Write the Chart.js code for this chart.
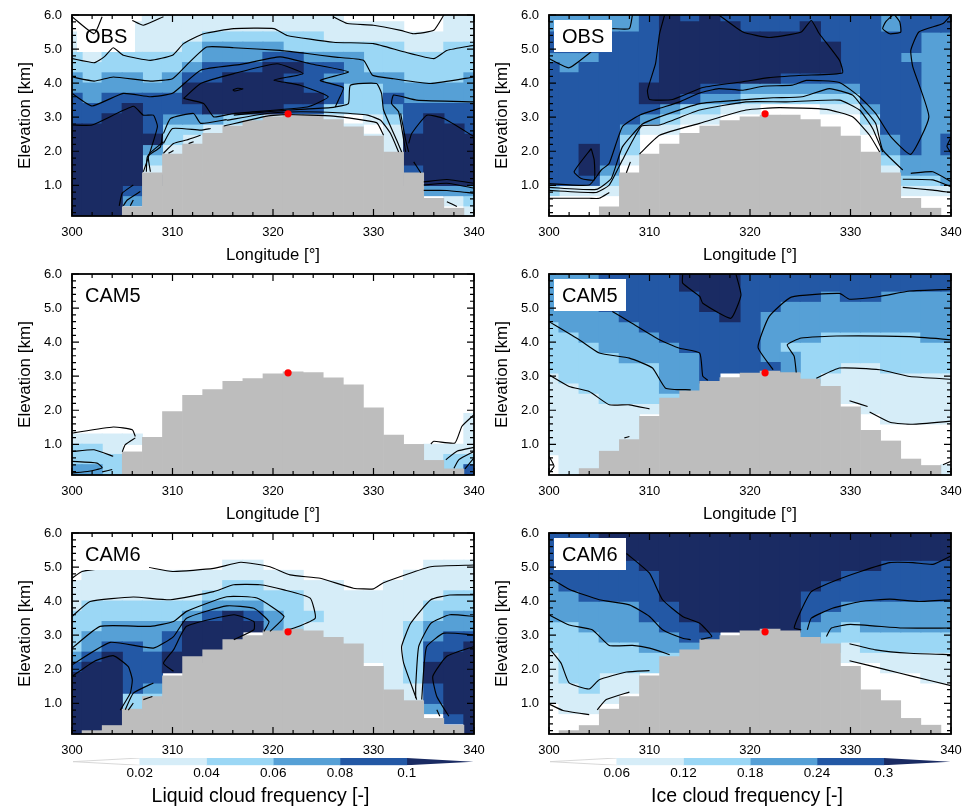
<!DOCTYPE html>
<html>
<head>
<meta charset="utf-8">
<title>Cloud frequency</title>
<script src="https://cdn.jsdelivr.net/npm/chart.js@4"></script>
<style>
  html, body { margin: 0; padding: 0; background: #fff; }
  body { position: relative; width: 972px; height: 807px; overflow: hidden; }
  canvas { position: absolute; }
</style>
</head>
<body>
<script>
const lonTicks = [300, 310, 320, 330, 340];
const elevTicks = [1, 2, 3, 4, 5, 6];
const lonCells = [300, 302, 304, 306, 308, 310, 312, 314, 316, 318, 320, 322, 324, 326, 328, 330, 332, 334, 336, 338, 340];
const rowEdges = [0.1, 0.4, 0.7, 1.0, 1.3, 1.6, 1.9, 2.2, 2.5, 2.8, 3.1, 3.4, 3.7, 4.0, 4.3, 4.6, 4.9, 5.2, 5.5, 5.8, 6.1];
const siteLon = [321.5];
const siteElev = [3.1];

const liquidBreaks = [0.02, 0.04, 0.06, 0.08, 0.1];
const iceBreaks = [0.06, 0.12, 0.18, 0.24, 0.3];

// terrain top per longitude column
const obsTerrain = [0, 0, 0, 0.37, 1.37, 1.92, 2.21, 2.53, 2.74, 2.9, 3.01, 3.06, 3.06, 2.93, 2.72, 2.45, 1.98, 1.37, 0.62, 0.33, 0];
const cam5LiquidTerrain = [0, 0, 0, 0.78, 1.21, 1.96, 2.44, 2.61, 2.85, 2.93, 3.07, 3.13, 3.11, 2.95, 2.75, 2.07, 1.27, 1.0, 0.53, 0.28, 0];
const cam5IceTerrain = [0, 0, 0.29, 0.8, 1.14, 1.82, 2.36, 2.57, 2.85, 2.96, 3.09, 3.15, 3.11, 2.92, 2.7, 2.1, 1.41, 1.1, 0.57, 0.38, 0];
const cam6Terrain = [0, 0.2, 0.35, 0.83, 1.2, 1.81, 2.37, 2.57, 2.87, 2.99, 3.13, 3.18, 3.13, 2.94, 2.75, 2.09, 1.4, 1.08, 0.56, 0.36, 0];

// colour class of each cell, top row first, one char per longitude
const obsLiquidBins = [
  '000011111111110000011', '000111111111111110011', '100111122222211111111', '111111233332222221122',
  '212222233344333222222', '222222344455443222222', '323323445554433332223', '333333555555442233333',
  '434444555555542243333', '444544455554422234444', '445543332211110124544', '555542211111111014554',
  '555552111111111115555', '555531111111111115555', '555521111111111115555', '555511111111111114555',
  '555550000000000005555', '555400000000000000333', '555300000000000000012', '555000000000000000001'
];
const obsIceBins = [
  '333334545444444443444', '333334555544454443444', '444444555555554444433', '444444555555555444433',
  '333444555555555444333', '434444555555555444433', '444444555555444444433', '444445554433333344433',
  '444445543322222244433', '444444322110001134433', '444443211000000024433', '444431100000000014433',
  '444420000000000003434', '445420000000000003434', '445410000000000002333', '445300000000000001333',
  '444200000000000000223', '211100000000000000111', '000000000000000000000', '000000000000000000000'
];
const cam5LiquidBins = [
  '000000000000000000000', '000000000000000000000', '000000000000000000000', '000000000000000000000',
  '000000000000000000000', '000000000000000000000', '000000000000000000000', '000000000000000000000',
  '000000000000000000000', '000000000000000000000', '000000000000000000000', '000000000000000000000',
  '000000000000000000000', '000000000000000000000', '000000000000000000001', '000000000000000000001',
  '111100000000000000001', '221000000000000000111', '222000000000000000122', '332000000000000000024'
];
const cam5IceBins = [
  '333444455544444444444', '333444455544444444444', '333444445544443443333', '333444445544333333333',
  '333344444543333333333', '233334444443333333333', '223333444443332222233', '222333344443222222222',
  '222233334443322222222', '222222334444322112222', '122222334000021111111', '112222330000001111111',
  '111222200000000111111', '111111000000000011111', '111110000000000001111', '111110000000000000000',
  '111110000000000000000', '111100000000000000000', '011000000000000000000', '011000000000000000001'
];
const cam6LiquidBins = [
  '000000000000000000000', '000000000000000000000', '000000000000000000000', '000000001100000000111',
  '011111111111000001111', '111111112211110011111', '111111122222111111122', '122222233322111111222',
  '222222345432211111233', '223333555532111112333', '233334555000011112344', '234434550000001112445',
  '345445500000000112455', '455445000000000012555', '555440000000000012555', '555430000000000011455',
  '555220000000000001455', '555200000000000000355', '555000000000000000045', '555000000000000000005'
];
const cam6IceBins = [
  '444555555555555555555', '444455555555555555555', '444455555555555555555', '444445555555555554444',
  '444444555555555444444', '344444555555554444444', '334444555555544444444', '333334455555544333333',
  '333334455555543333333', '223333445555533233333', '222333344000032222222', '222223330000002122222',
  '122222200000000111111', '122222000000000001111', '122110000000000000011', '112110000000000000000',
  '111100000000000000000', '011000000000000000000', '000000000000000000000', '000000000000000000000'
];

// contour lines as lon, elevation, lon, elevation ...
const obsLiquidLines = [
  [300,5.95, 302.2,5.45, 303,5.95],
  [306,5.84, 307.1,5.7, 309.1,5.95],
  [326,5.95, 327.4,5.75, 330,5.7, 332.7,5.55, 334,5.45, 336,5.55, 337,6],
  [300,4.72, 302.2,4.6, 303.2,4.77, 304.1,5.04, 305.1,4.82, 307.8,4.67, 310,4.82, 311.1,5.16, 313.1,5.45, 316.1,5.6, 320.1,5.6, 321.4,5.4, 326,5.2, 330,5.16, 333,4.92, 336,4.72, 337.3,4.96, 340,5.11],
  [300,4.18, 302.2,4.06, 304.1,4.18, 307.8,4.06, 310,4.13, 311.4,4.53, 313.4,5.06, 316.1,5.04, 320.7,4.96, 323.4,4.87, 326,4.77, 329,4.67, 329.9,4.23, 332,4.13, 335.7,3.99, 340,4.18],
  [300,3.7, 302,3.33, 305.1,3.7, 307.8,3.6, 310,3.7, 312.8,4.38, 316.8,4.55, 320.7,4.77, 323.7,4.57, 327.5,4.33, 324.7,4.08, 327,3.87, 326.5,3.5, 326.2,3.3],
  [311.1,3.55, 312.8,3.99, 316.1,4.28, 320.4,4.57, 323,4.28, 320.1,4.09, 322.7,3.94, 325.5,3.6, 323.4,3.3, 316.1,3.11, 314.1,3.01, 313.1,3.4, 311.1,3.55],
  [316,3.8, 316.5,3.85, 317,3.83, 316.2,3.77, 316,3.8],
  [316.1,3.06, 319.4,3.16, 322.7,3.23, 326,3.29, 327.5,3.4, 327.7,3.94, 330.3,3.99, 330.8,3.7, 331,3.21, 332.3,2.33, 332.8,1.98],
  [315.4,2.91, 319.4,3.11, 322.7,3.16, 326.4,3.13, 329.4,3.06, 330.7,2.91, 331.7,2.52, 332.5,1.98],
  [315.1,2.74, 319.4,3.03, 321.4,3.08, 326,3.03, 330.3,2.84, 331,2.47],
  [309.1,2.52, 309.8,2.96, 312.1,3.11, 312.8,2.82, 315.4,2.93],
  [309.1,2.23, 310,2.67, 312.8,2.62, 313.8,2.67],
  [309.1,1.94, 310.1,2.23, 311.4,2.33, 312.8,2.47],
  [309.6,1.94, 310.1,2.02],
  [311.6,2.23, 312.1,2.28],
  [300,2.77, 302,2.77, 306.1,3.32, 307.1,3.06, 308.1,3.06, 308.5,2.72, 307.5,1.74, 307.1,1.4],
  [307.4,1.4, 307.5,1.84, 308.8,2.13, 309,2.52],
  [307.8,1.4, 307.6,1.89, 309.1,2.28],
  [304.7,0.4, 305,0.77, 306.1,1.01],
  [305.1,0.4, 305.5,0.57, 306.8,0.82],
  [305.8,0.4, 306.1,0.57],
  [340,3.45, 334.3,3.5, 332,3.65, 331.8,3.4, 332.5,3.16, 333.2,1.98],
  [332.7,3.11, 333.2,2.33, 333.5,1.98],
  [333.5,2.23, 333.8,2.52, 335.3,3.06, 337,2.96, 340,2.43],
  [334,1.69, 334.7,1.37],
  [335,1.1, 337.3,1.17, 340,1.06],
  [335,1.01, 337.3,1.06, 340,0.92],
  [335,0.85, 337.3,0.85, 340,0.77],
  [337.3,0.52, 338.3,0.38]
];
const obsIceLines = [
  [306.3,5.6, 308,5.6, 308.3,6],
  [300,4.72, 302,4.45, 304.2,4.92],
  [311.5,6, 311,5.45, 310.6,4.57, 309.8,3.79, 310,3.52, 312.3,3.52, 315.3,3.87, 319.3,4.04, 321.9,4.16, 325.2,4.23, 329.2,4.3, 328.9,4.67, 326.9,5.45, 326.1,5.84, 325.1,5.5, 321.9,5.34, 319.3,5.5, 316.9,6],
  [304.2,2.08, 302.5,1.4, 303.2,1.2, 304.5,1.16, 304.5,1.74, 304.2,2.08],
  [334.2,6, 333.5,5.8, 333.2,5.6, 333.9,5.45, 335,5.5, 334.9,5.8, 334.4,6],
  [340,6, 339.2,5.75, 336.8,5.5, 336,4.96, 336.2,4.48, 337.8,3.01, 336,1.91, 334,2.43, 332.5,3.11, 330.9,3.6, 328.9,4.02, 325.6,4.08, 324.2,3.94, 321.3,3.91, 319.3,3.79, 316.9,3.84, 315,3.71, 313,3.45, 311,3.26, 309,3.06, 307.3,2.72, 306,1.65, 305.2,1.45, 304,1.01, 300,1.05],
  [300,0.94, 304.7,0.88, 306.2,1.2, 307.3,2.13, 309.3,2.8, 311,3.01, 315,3.4, 318.9,3.5, 322.3,3.57, 325.2,3.6, 327.9,3.84, 330.2,3.65, 331.2,3.3, 332.5,2.82, 333.2,2.04, 335.2,1.45],
  [300,0.85, 304.7,0.79, 306,1.01, 307.3,1.74, 309.2,2.74, 311,2.77, 315,3.21, 319.6,3.45, 323.6,3.45, 328.9,3.5, 330.9,3.21, 332.2,2.67, 333.2,1.98],
  [300,0.62, 304,0.62, 305,0.62, 306,0.79],
  [307.7,1.37, 308.1,1.69],
  [309,1.92, 311,2.47, 315,2.82, 319.6,3.21, 322.9,3.28, 327.6,3.23, 330.2,3.01, 331.9,2.47, 332.9,1.98],
  [336,1.35, 338.2,1.4, 340,1.11],
  [335.2,1.18, 338.2,1.16, 340,0.96],
  [335.2,0.94, 338.2,0.86, 340,0.79],
  [340,2.4, 339.6,2.15, 340,1.95]
];
const cam5LiquidLines = [
  [300,1.33, 304.1,1.51, 306,1.43, 306.3,1.23],
  [305,0.78, 305.3,0.99, 306.3,1.19],
  [300,0.79, 302.2,0.84, 304.1,0.65],
  [300,0.5, 302.5,0.45, 303,0.31, 301.7,0.21, 300,0.16],
  [303,0.19, 304,0.26],
  [335.7,1.01, 336,1.09, 338.1,1.04, 338.8,1.53, 340,1.87],
  [337.2,0.55, 338.3,0.8, 340,0.91],
  [338,0.3, 338.5,0.55, 340,0.79],
  [339.1,0.28, 340,0.6]
];
const cam5IceLines = [
  [300,4.6, 303,4.07, 305,3.68, 308,3.53, 310.3,3.24, 311.6,2.65, 314.1,2.6],
  [300,3.04, 302,2.7, 304,2.55, 306,2.16, 308,2.16, 310,2.04],
  [306.3,4.9, 308,4.6, 311,4.07, 313,3.82, 315,3.68, 315.3,3, 315.8,2.88],
  [313.3,6, 313.3,5.73, 315,5.34, 315.3,5.14, 318.1,4.7, 319.1,5.38, 318.6,6],
  [322.3,3.19, 320.8,3.85, 321.9,4.75, 324.1,5.32, 328.9,5.43, 329.9,5.26, 332.9,5.34, 335.9,5.5, 340,5.55],
  [324.6,3.11, 324.4,3.58, 323.7,3.92, 325.1,4.12, 328.6,4.18, 335.9,4.16, 340,4.07],
  [326.6,2.94, 328.9,3.24, 332.9,3.19, 335.9,2.99, 340,2.91],
  [329.9,2.28, 331.7,2.11],
  [331.9,1.95, 334,1.64, 336.2,1.59, 340,1.68],
  [307.5,1.19, 308,1.23],
  [300,0.65, 300.5,0.36, 300,0.16],
  [339.2,0.4, 340,0.5]
];
const cam6LiquidLines = [
  [300,4.67, 301,4.87, 306.1,5.06, 310,4.87, 314.1,4.96, 316.8,5.14, 319.7,5.01, 321.7,4.77, 324.7,4.67, 328,4.38, 330,4.36, 331,4.54, 335.7,5.01, 340,5.06],
  [300,3.55, 301.8,3.99, 306.1,4.12, 309.8,4.04, 314.1,4.28, 316.1,4.48, 318.7,4.48, 321.1,4.33, 323.7,4.09, 324.2,3.5, 322.1,3.21, 321.2,3.14],
  [334.3,1.11, 333,2.18, 332.8,2.67, 333.7,3.35, 335.7,4.04, 337.6,4.18, 340,4.18],
  [300,2.62, 302.8,3.26, 307.8,3.26, 310.1,3.4, 311.4,3.7, 315.4,4.13, 318.4,4.09, 321.1,3.55, 319.7,3.11],
  [334.2,1.16, 334.2,1.5, 334.5,2.67, 335.7,3.35, 337.6,3.6, 340,3.55],
  [300,2.13, 303.8,2.79, 308.1,2.62, 310.1,2.96, 311.4,3.5, 315.4,3.86, 318.1,3.79, 319.6,3.4, 319.1,3.11],
  [334.8,1.11, 335,1.99, 335.3,2.67, 337,3.06, 340,3.01],
  [300,1.79, 302.2,2.23, 304.1,2.4, 305.6,2.08, 306,1.69, 305.8,1.3, 304.8,0.8],
  [310.1,1.94, 309.1,2.18, 310.1,2.57, 311.4,3.26, 316.1,3.6, 318.1,3.4, 318.1,3.16, 316.1,2.87],
  [337.5,0.62, 336.3,1.2, 335.9,1.79, 337.3,2.38, 340,2.67],
  [336.6,0.62, 336.3,0.81],
  [308.1,1.6, 306.1,1.3, 305.3,0.81],
  [308,1.2, 307.1,1.11],
  [306.1,1.01, 305.6,0.8]
];
const cam6IceLines = [
  [307.7,5.4, 310,4.82, 311.3,4.04, 313.3,3.55, 315,3.35, 316.2,2.96, 315.1,2.88],
  [325.1,3.16, 324.4,3.21, 325.1,3.74, 326.1,4.28, 328.2,4.57, 331,4.87, 333.9,5.13, 336.2,5.13, 338.2,5.08, 340,5.33],
  [300,4.7, 302,4.35, 305,4.04, 308,3.89, 310,3.55, 311.3,3.16, 313.3,2.91, 314.1,2.87],
  [325.7,3.16, 326.1,3.5, 328.2,3.79, 331,3.99, 333.9,4.06, 336.8,3.99, 340,4.04],
  [300,3.6, 302,3.3, 304.3,3.16, 306,2.7, 308.3,2.7, 310,2.62, 312,2.43],
  [327.6,2.96, 328.1,3.21, 330,3.32, 335.2,3.21, 340,3.21],
  [300,2.62, 301.2,2.18, 302,1.6, 304,1.42, 305,1.69, 307.7,1.92, 310,1.96],
  [329.9,2.75, 332.5,2.57, 335.9,2.47, 340,2.43],
  [300,0.98, 301.4,0.79, 304,0.67],
  [304.8,0.81, 305.7,1.11, 308,1.33],
  [329.9,2.25, 333.5,1.99, 336.2,1.79, 340,1.52]
];

const binColors = ['#ffffff', '#d6edf8', '#9bd7f5', '#56a0d6', '#2358a5', '#1a2b63'];
const terrainColor = '#bdbdbd';
const fontFamily = '"Liberation Sans", Arial, sans-serif';

Chart.defaults.font.family = fontFamily;
Chart.defaults.color = '#000';
Chart.defaults.animation = false;

function addCanvas(left, top, width, height) {
  const c = document.createElement('canvas');
  c.width = width;
  c.height = height;
  c.style.left = left + 'px';
  c.style.top = top + 'px';
  c.style.width = width + 'px';
  c.style.height = height + 'px';
  document.body.appendChild(c);
  return c;
}

// one bar dataset per colour class, vertical runs of a column merged into one bar
function cellDatasets(bins) {
  const sets = [];
  for (let level = 1; level <= 5; level++) {
    const data = [];
    lonCells.forEach((lon, col) => {
      let run = null;
      for (let k = 0; k < rowEdges.length - 1; k++) {
        const ch = bins[bins.length - 1 - k].charAt(col);
        if (Number(ch) === level && ch !== '') {
          if (run) {
            run.y[1] = rowEdges[k + 1];
          } else {
            run = { x: lon, y: [rowEdges[k], rowEdges[k + 1]] };
            data.push(run);
          }
        } else {
          run = null;
        }
      }
    });
    sets.push({
      type: 'bar', data: data, backgroundColor: binColors[level], borderWidth: 0, inflateAmount: 0.6,
      grouped: false, barPercentage: 1, categoryPercentage: 1, order: 30 - level
    });
  }
  return sets;
}

function lineDatasets(lines) {
  return lines.map(flat => {
    const pts = [];
    for (let i = 0; i < flat.length; i += 2) pts.push({ x: flat[i], y: flat[i + 1] });
    return {
      type: 'scatter', data: pts, showLine: true, borderColor: '#000', borderWidth: 1.15,
      pointRadius: 0, tension: 0.15, order: 10
    };
  });
}

function panelPlugin(label, boxWidth, boxUnderLines) {
  function drawBox(chart) {
    const ctx = chart.ctx, a = chart.chartArea;
    ctx.save();
    ctx.fillStyle = '#fff';
    ctx.fillRect(a.left + 5, a.top + 5, boxWidth, 32);
    ctx.fillStyle = '#000';
    ctx.font = '20px ' + fontFamily;
    ctx.textBaseline = 'alphabetic';
    ctx.fillText(label, a.left + 13, a.top + 28);
    ctx.restore();
  }
  return {
    id: 'panelFrame',
    afterDatasetDraw(chart, args) {
      if (boxUnderLines && chart.data.datasets[args.index].isTerrain) drawBox(chart);
    },
    afterDatasetsDraw(chart) {
      const ctx = chart.ctx, a = chart.chartArea, xs = chart.scales.x, ys = chart.scales.y;
      if (!boxUnderLines) drawBox(chart);
      ctx.save();
      ctx.strokeStyle = '#000';
      ctx.lineWidth = 1.2;
      ctx.beginPath();
      for (let lon = 300; lon <= 340; lon += 2) {
        const px = xs.getPixelForValue(lon), len = lon % 10 === 0 ? 7 : 4;
        ctx.moveTo(px, a.bottom); ctx.lineTo(px, a.bottom - len);
        ctx.moveTo(px, a.top); ctx.lineTo(px, a.top + len);
      }
      for (let i = 1; i <= 30; i++) {
        const py = ys.getPixelForValue(i * 0.2), len = i % 5 === 0 ? 7 : 4;
        ctx.moveTo(a.left, py); ctx.lineTo(a.left + len, py);
        ctx.moveTo(a.right, py); ctx.lineTo(a.right - len, py);
      }
      ctx.stroke();
      ctx.lineWidth = 1.8;
      ctx.strokeRect(a.left, a.top, a.right - a.left, a.bottom - a.top);
      ctx.restore();
    }
  };
}

function drawPanel(cfg) {
  const canvasH = 265;
  const canvas = addCanvas(cfg.left, cfg.top - 15, 486, canvasH);
  const datasets = cellDatasets(cfg.bins);
  datasets.push({
    type: 'bar', isTerrain: true,
    data: lonCells.map((lon, i) => ({ x: lon, y: [0, cfg.terrain[i]] })),
    backgroundColor: terrainColor, borderWidth: 0, inflateAmount: 0.3,
    grouped: false, barPercentage: 1, categoryPercentage: 1, order: 20
  });
  lineDatasets(cfg.lines).forEach(d => datasets.push(d));
  datasets.push({
    type: 'scatter', data: siteLon.map((lon, i) => ({ x: lon, y: siteElev[i] })),
    pointRadius: 3.6, pointBackgroundColor: '#ff0000', pointBorderWidth: 0, order: 1, clip: false
  });
  new Chart(canvas, {
    type: 'bar',
    data: { datasets: datasets },
    options: {
      responsive: false,
      animation: false,
      layout: { padding: { left: 0, top: 15, right: 12, bottom: 0 } },
      plugins: { legend: { display: false }, tooltip: { enabled: false } },
      scales: {
        x: {
          type: 'linear', min: 300, max: 340, offset: false,
          grid: { display: false, drawTicks: false },
          border: { display: false },
          afterBuildTicks: s => { s.ticks = lonTicks.map(v => ({ value: v })); },
          afterFit: s => { s.height = 49; s.paddingLeft = 0; s.paddingRight = 0; },
          ticks: { padding: 9, maxRotation: 0, autoSkip: false, font: { size: 13 } },
          title: { display: cfg.xTitle, text: 'Longitude [°]', font: { size: 16.7 }, padding: 0 }
        },
        y: {
          min: 0.1, max: 6,
          grid: { display: false, drawTicks: false },
          border: { display: false },
          afterBuildTicks: s => { s.ticks = elevTicks.map(v => ({ value: v })); },
          afterFit: s => { s.width = 72; s.paddingTop = 0; s.paddingBottom = 0; },
          ticks: { padding: 10, autoSkip: false, font: { size: 13 }, callback: v => v.toFixed(1) },
          title: { display: true, text: 'Elevation [km]', font: { size: 17 }, padding: { top: 15, bottom: 0 } }
        }
      }
    },
    plugins: [panelPlugin(cfg.label, cfg.boxWidth, cfg.boxUnderLines)]
  });
}

function drawColorbar(cfg) {
  const canvas = addCanvas(cfg.left, 752, 486, 55);
  const b = cfg.breaks;
  const step = b[1] - b[0];
  const xMax = b[b.length - 1] + step;
  const datasets = [];
  for (let i = 0; i < b.length - 1; i++) {
    datasets.push({
      type: 'bar', data: [{ x: (b[i] + b[i + 1]) / 2, y: [0, 1] }],
      backgroundColor: binColors[i + 1], borderWidth: 0,
      grouped: false, barPercentage: 1, categoryPercentage: 1
    });
  }
  datasets.push({
    type: 'scatter', data: [{ x: b[0], y: 0 }, { x: 0, y: 0.5 }, { x: b[0], y: 1 }],
    showLine: true, pointRadius: 0, borderColor: '#d4d4d4', borderWidth: 0.9, backgroundColor: '#ffffff', fill: 'shape'
  });
  datasets.push({
    type: 'scatter', data: [{ x: b[b.length - 1], y: 0 }, { x: xMax, y: 0.5 }, { x: b[b.length - 1], y: 1 }],
    showLine: true, pointRadius: 0, borderWidth: 0, backgroundColor: binColors[5], fill: 'shape'
  });
  new Chart(canvas, {
    type: 'bar',
    data: { datasets: datasets },
    options: {
      responsive: false,
      animation: false,
      layout: { padding: { left: cfg.padLeft, top: 6, right: 12.5, bottom: 0 } },
      plugins: { legend: { display: false }, tooltip: { enabled: false } },
      scales: {
        x: {
          type: 'linear', min: 0, max: xMax, offset: false,
          grid: { display: false, drawTicks: false },
          border: { display: false },
          afterBuildTicks: s => { s.ticks = b.map(v => ({ value: v })); },
          afterFit: s => { s.height = 41.7; },
          ticks: { padding: 0, autoSkip: false, maxRotation: 0, font: { size: 13.5 }, callback: v => String(Number(v.toFixed(2))) }
        },
        y: { display: false, min: 0, max: 1 }
      }
    },
    plugins: [{
      id: 'barTitle',
      afterDraw(chart) {
        const ctx = chart.ctx;
        ctx.save();
        ctx.fillStyle = '#000';
        ctx.font = '19.5px ' + fontFamily;
        ctx.textAlign = 'center';
        ctx.textBaseline = 'alphabetic';
        ctx.fillText(cfg.title, cfg.titleX, 49.7);
        ctx.restore();
      }
    }]
  });
}

const leftCol = 0, rightCol = 477;
drawPanel({ left: leftCol, top: 15, bins: obsLiquidBins, terrain: obsTerrain, lines: obsLiquidLines, label: 'OBS', boxWidth: 58, boxUnderLines: true, xTitle: true });
drawPanel({ left: rightCol, top: 15, bins: obsIceBins, terrain: obsTerrain, lines: obsIceLines, label: 'OBS', boxWidth: 58, xTitle: true });
drawPanel({ left: leftCol, top: 274, bins: cam5LiquidBins, terrain: cam5LiquidTerrain, lines: cam5LiquidLines, label: 'CAM5', boxWidth: 72, xTitle: true });
drawPanel({ left: rightCol, top: 274, bins: cam5IceBins, terrain: cam5IceTerrain, lines: cam5IceLines, label: 'CAM5', boxWidth: 72, xTitle: true });
drawPanel({ left: leftCol, top: 533, bins: cam6LiquidBins, terrain: cam6Terrain, lines: cam6LiquidLines, label: 'CAM6', boxWidth: 72, xTitle: false });
drawPanel({ left: rightCol, top: 533, bins: cam6IceBins, terrain: cam6Terrain, lines: cam6IceLines, label: 'CAM6', boxWidth: 72, xTitle: false });
drawColorbar({ left: leftCol, padLeft: 73, breaks: liquidBreaks, title: 'Liquid cloud frequency [-]', titleX: 260.5 });
drawColorbar({ left: rightCol, padLeft: 73, breaks: iceBreaks, title: 'Ice cloud frequency [-]', titleX: 270 });
</script>
</body>
</html>
